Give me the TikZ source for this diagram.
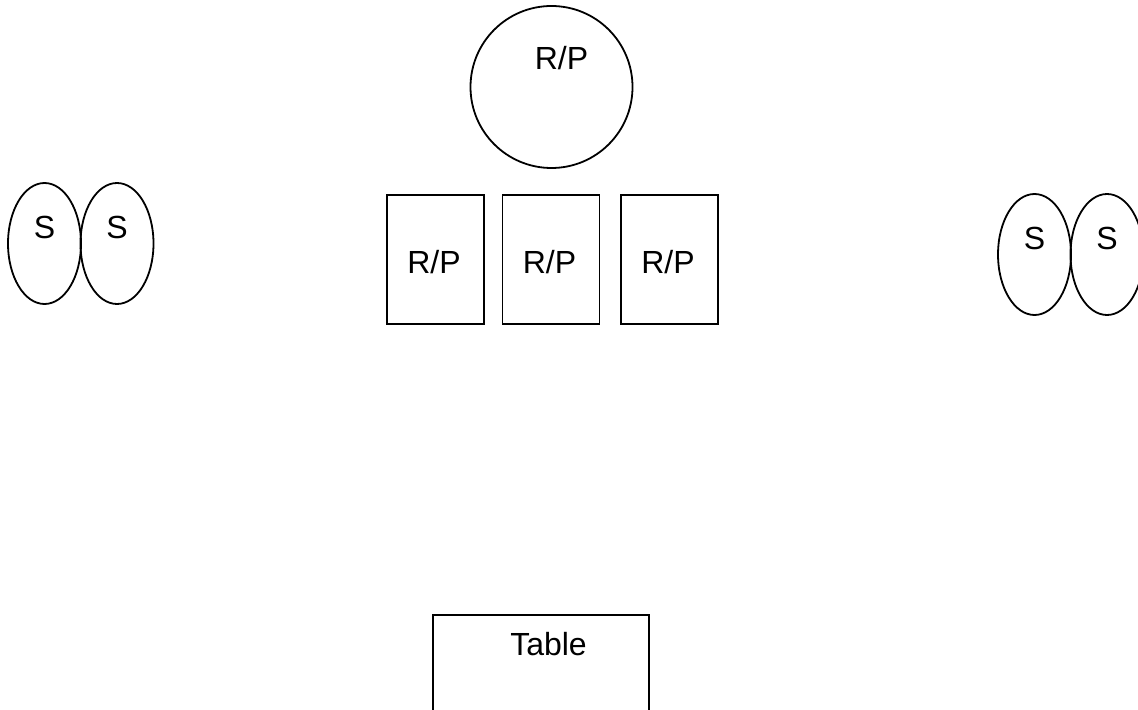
\documentclass[tikz,border=0pt]{standalone}
\usepackage{fontspec}
\setmainfont{Liberation Sans}
\usetikzlibrary{shapes.geometric}
\tikzset{
  seat/.style={ellipse, draw, line width=0.9pt, inner sep=0pt, minimum width=36.5pt, minimum height=60.5pt},
  rpbox/.style={rectangle, draw, line width=0.9pt, inner sep=0pt, minimum width=48.5pt, minimum height=64.5pt},
  rpround/.style={circle, draw, line width=0.9pt, inner sep=0pt, minimum size=81pt},
  tablebox/.style={rectangle, draw, line width=0.9pt, inner sep=0pt, minimum width=108pt, minimum height=65pt}
}
\begin{document}
\begin{tikzpicture}[x=0.5pt, y=-0.5pt, font=\fontsize{16}{19}\selectfont]
\useasboundingbox (0,0) rectangle (1138,710);
\node[seat, label={[yshift=8pt]center:S}] (sl1) at (44.5,243.5) {};
\node[seat, label={[yshift=8pt]center:S}] (sl2) at (117,243.5) {};
\node[seat, label={[yshift=8pt]center:S}] (sr1) at (1034.5,254.5) {};
\node[seat, label={[yshift=8pt]center:S}] (sr2) at (1107,254.5) {};
\node[rpround, label={[xshift=5pt, yshift=14.5pt]center:R/P}] (rp0) at (551.5,87) {};
\node[rpbox, label={[xshift=-0.75pt, yshift=-1.25pt]center:R/P}] (rp1) at (435.5,259.5) {};
\node[rpbox, label={[xshift=-0.75pt, yshift=-1.25pt]center:R/P}] (rp2) at (551,259.5) {};
\node[rpbox, label={[xshift=-0.75pt, yshift=-1.25pt]center:R/P}] (rp3) at (669.5,259.5) {};
\node[tablebox, label={[xshift=3.75pt, yshift=18pt]center:Table}] (tbl) at (541,680) {};
\end{tikzpicture}
\end{document}
